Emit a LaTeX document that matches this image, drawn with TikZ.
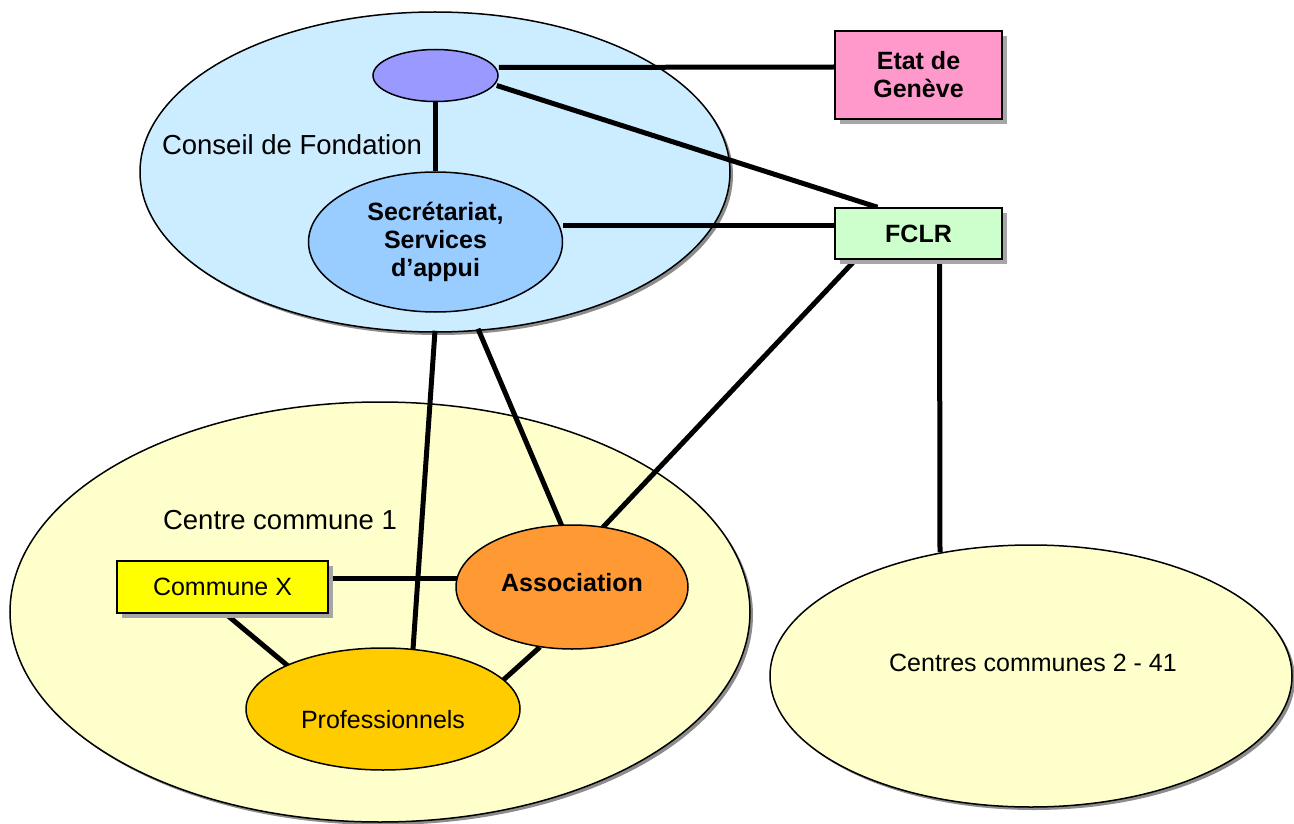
\documentclass[tikz,border=0pt]{standalone}
\usepackage{fontspec}
\setmainfont{Liberation Sans}
\usetikzlibrary{shapes.geometric,shadows,calc}
\pgfdeclarelayer{bg}
\pgfdeclarelayer{edges}
\pgfsetlayers{bg,edges,main}
\definecolor{cblue}{RGB}{204,236,255}
\definecolor{cpurple}{RGB}{153,153,255}
\definecolor{csec}{RGB}{153,204,255}
\definecolor{cpink}{RGB}{255,153,204}
\definecolor{cgreen}{RGB}{204,255,204}
\definecolor{ccream}{RGB}{255,255,204}
\definecolor{cyellow}{RGB}{255,255,0}
\definecolor{corange}{RGB}{255,153,51}
\definecolor{cgold}{RGB}{255,204,0}
\tikzset{
  bigell/.style={ellipse, draw=black, line width=1.5pt, inner sep=0pt,
    drop shadow={shadow xshift=3pt, shadow yshift=-3pt, fill=black!45, opacity=1}},
  smallell/.style={ellipse, draw=black, line width=1.5pt, inner sep=0pt, align=center,
    font=\fontsize{25}{28}\selectfont},
  box/.style={rectangle, draw=black, line width=1.5pt, inner sep=0pt, align=center,
    font=\fontsize{25}{28}\selectfont,
    drop shadow={shadow xshift=5pt, shadow yshift=-5pt, fill=black!35, opacity=1}},
  conn/.style={line width=5pt},
  grouplabel/.style={font=\fontsize{27.5}{30}\selectfont, inner sep=0pt},
  plainlabel/.style={font=\fontsize{25}{28}\selectfont, inner sep=0pt}
}
\begin{document}
\begin{tikzpicture}[x=1pt,y=-1pt]
\useasboundingbox (0,0) rectangle (1294,824);
\begin{pgfonlayer}{bg}
  \node[bigell, fill=cblue, minimum width=590pt, minimum height=320pt] (conseil) at (435,172) {};
  \node[bigell, fill=ccream, minimum width=740pt, minimum height=420pt] (centre1) at (380,612) {};
  \node[bigell, fill=ccream, minimum width=522pt, minimum height=262pt] (centres) at (1031,676) {};
\end{pgfonlayer}
\node[grouplabel] (lconseil) at (292,145) {Conseil de Fondation};
\node[grouplabel] (lcentre1) at (280,520) {Centre commune 1};
\node[plainlabel] (lcentres) at (1033,663) {Centres communes 2 - 41};

\node[smallell, fill=cpurple, minimum width=125pt, minimum height=52pt] (purple) at (435.5,75.5) {};
\node[smallell, fill=csec, minimum width=254pt, minimum height=140pt, font=\fontsize{25}{28}\selectfont\bfseries] (sec) at (435.5,242) {Secrétariat,\\Services\\d’appui};
\node[box, fill=cpink, minimum width=167pt, minimum height=88pt, font=\fontsize{25}{28}\selectfont\bfseries] (etat) at (918.5,75) {Etat de\\Genève};
\node[box, fill=cgreen, minimum width=167pt, minimum height=51pt, font=\fontsize{25}{28}\selectfont\bfseries] (fclr) at (918.5,233.5) {FCLR};
\node[box, fill=cyellow, minimum width=211pt, minimum height=52pt] (cx) at (222.5,587) {Commune X};
\node[smallell, fill=corange, minimum width=232pt, minimum height=124pt, text depth=10pt, font=\fontsize{25}{28}\selectfont\bfseries] (assoc) at (572,587) {Association};
\node[smallell, fill=cgold, minimum width=274pt, minimum height=122pt] (prof) at (383,709) {};
\node[plainlabel] (lprof) at (383,720) {Professionnels};

\begin{pgfonlayer}{edges}
  \draw[conn] ($(purple.east)+(0,-8)$) -- ($(etat.west)+(0,-8)$);
  \draw[conn] ($(purple.east)+(-2,10)$) -- ($(fclr.north)+(-41,0)$);
  \draw[conn] (purple.south) -- (sec.north);
  \draw[conn] ($(sec.east)+(0,-17)$) -- ($(fclr.west)+(0,-8.5)$);
  \draw[conn] ($(conseil.south)+(0,-2)$) -- ($(prof.north)+(30,2)$);
  \draw[conn] ($(conseil.south)+(43,-4)$) -- ($(assoc.north)+(-10,2)$);
  \draw[conn] ($(fclr.south)+(-63,0)$) -- ($(assoc.north)+(31,3)$);
  \draw[conn] ($(fclr.south)+(21,0)$) -- ($(centres.north)+(-91,8)$);
  \draw[conn] ($(cx.east)+(0,-9)$) -- ($(assoc.west)+(2,-9)$);
  \draw[conn] ($(cx.south)+(3,0)$) -- ($(prof.center)+(-95,-43)$);
  \draw[conn] ($(assoc.center)+(-32,60)$) -- ($(prof.center)+(117,-26)$);
\end{pgfonlayer}
\end{tikzpicture}
\end{document}
